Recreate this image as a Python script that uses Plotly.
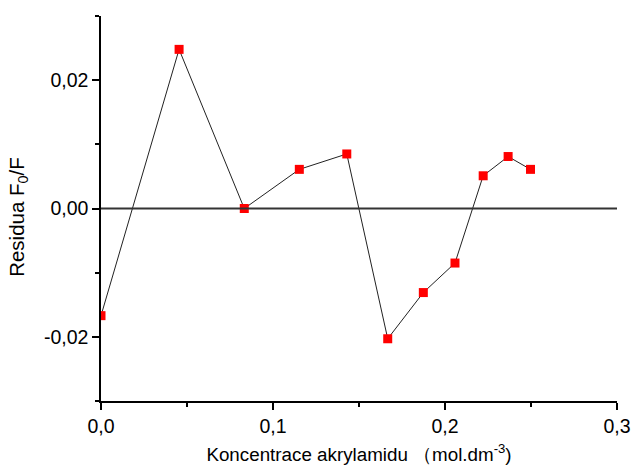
import plotly.graph_objects as go

concentration = [0.0, 0.0454, 0.0833, 0.1153, 0.1429, 0.1667, 0.1874, 0.2058, 0.2222, 0.2367, 0.2497]
residua = [-0.0167, 0.0248, 0.0000, 0.0061, 0.0085, -0.0203, -0.0131, -0.0085, 0.0051, 0.0081, 0.0061]

x_ticks = [0.0, 0.1, 0.2, 0.3]
x_labels = ["0,0", "0,1", "0,2", "0,3"]
y_ticks = [-0.02, 0.0, 0.02]
y_labels = ["-0,02", "0,00", "0,02"]

fig = go.Figure()
fig.add_trace(go.Scatter(
    x=concentration, y=residua, mode="lines+markers",
    line=dict(color="#222222", width=1),
    marker=dict(symbol="square", size=9, color="#ff0000", line=dict(width=0)),
    cliponaxis=True, showlegend=False,
))
fig.add_hline(y=0, line=dict(color="#333333", width=2))

fig.update_layout(
    width=632, height=469,
    margin=dict(l=101, r=15, t=16, b=68, autoexpand=False),
    paper_bgcolor="white", plot_bgcolor="white",
    font=dict(family="Liberation Sans, Arial, sans-serif", color="black"),
    xaxis=dict(
        range=[0, 0.3], tickvals=x_ticks, ticktext=x_labels,
        showgrid=False, zeroline=False, automargin=False,
        showline=True, linecolor="black", linewidth=1.5,
        ticks="outside", ticklen=7, tickwidth=1.5, tickcolor="black",
        minor=dict(dtick=0.05, tick0=0, ticks="outside", ticklen=4, tickwidth=1.5, tickcolor="black"),
        tickfont=dict(size=19.5),
        title=dict(text="Koncentrace akrylamidu （mol.dm<sup>-3</sup>)", font=dict(size=18.8), standoff=12),
    ),
    yaxis=dict(
        range=[-0.03, 0.03], tickvals=y_ticks, ticktext=y_labels,
        showgrid=False, zeroline=False, automargin=False,
        showline=True, linecolor="black", linewidth=1.5,
        ticks="outside", ticklen=7, tickwidth=1.5, tickcolor="black",
        minor=dict(dtick=0.01, tick0=0.01, ticks="outside", ticklen=4, tickwidth=1.5, tickcolor="black"),
        tickfont=dict(size=19.5),
        title=dict(text="Residua F<sub>0</sub>/F&nbsp;&nbsp;&nbsp;", font=dict(size=20.5), standoff=14),
    ),
)

fig.write_html(
    "out.html",
    config={"displayModeBar": False},
    post_script="document.body.style.margin='0';document.body.style.overflow='hidden';",
)
